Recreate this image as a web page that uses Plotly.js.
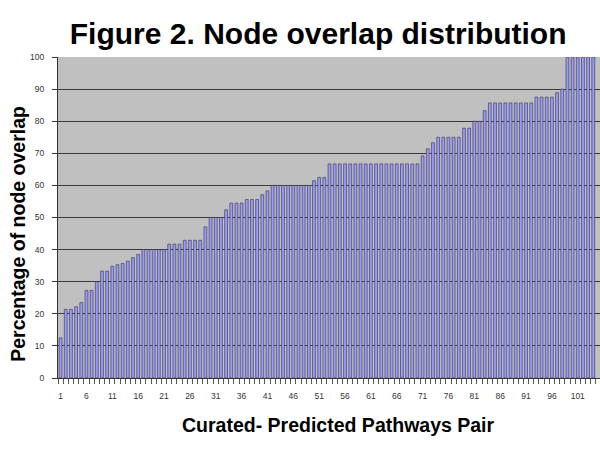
<!DOCTYPE html>
<html>
<head>
<meta charset="utf-8">
<script src="https://cdn.plot.ly/plotly-3.0.1.min.js"></script>
<style>html,body{margin:0;padding:0;background:#fff}#chart{width:600px;height:450px}</style>
</head>
<body>
<div id="chart"></div>
<script>
// Pair index (1..104) and percentage of node overlap
const pairs = [];
for (let i = 1; i <= 104; i++) pairs.push(i);

const overlap = [
  12.5, 21.4, 21.4, 22.2, 23.5, 27.3, 27.3, 30.0, 33.3, 33.3,
  34.8, 35.3, 35.7, 36.4, 37.5, 38.5, 40.0, 40.0, 40.0, 40.0,
  40.0, 41.7, 41.7, 41.7, 42.9, 42.9, 42.9, 42.9, 47.1, 50.0,
  50.0, 50.0, 52.4, 54.5, 54.5, 54.5, 55.6, 55.6, 55.6, 57.1,
  58.3, 60.0, 60.0, 60.0, 60.0, 60.0, 60.0, 60.0, 60.0, 61.5,
  62.5, 62.5, 66.7, 66.7, 66.7, 66.7, 66.7, 66.7, 66.7, 66.7,
  66.7, 66.7, 66.7, 66.7, 66.7, 66.7, 66.7, 66.7, 66.7, 66.7,
  69.2, 71.4, 73.3, 75.0, 75.0, 75.0, 75.0, 75.0, 77.8, 77.8,
  80.0, 80.0, 83.3, 85.7, 85.7, 85.7, 85.7, 85.7, 85.7, 85.7,
  85.7, 85.7, 87.5, 87.5, 87.5, 87.5, 88.9, 90.0, 100, 100,
  100, 100, 100, 100
];

const xTickVals = [1, 6, 11, 16, 21, 26, 31, 36, 41, 46, 51, 56, 61, 66, 71, 76, 81, 86, 91, 96, 101];
const yTickVals = [0, 10, 20, 30, 40, 50, 60, 70, 80, 90, 100];

const boundaryTicks = [];
for (let i = 0; i <= pairs.length; i++) boundaryTicks.push(i + 0.5);

const titleText = "Figure 2. Node overlap distribution";
const xTitle = "Curated- Predicted Pathways Pair";
const yTitle = "Percentage of node overlap";

const xRange = [0.5, 105.3];

const data = [{
  type: "bar",
  x: pairs,
  y: overlap,
  marker: { color: "#9999FF", line: { color: "#333344", width: 0.6 } },
  hoverinfo: "x+y"
}];

const layout = {
  width: 600, height: 450,
  margin: { l: 58, r: 0, t: 57, b: 72 },
  paper_bgcolor: "#ffffff",
  plot_bgcolor: "#C0C0C0",
  bargap: 0.45,
  showlegend: false,
  font: { family: "Liberation Sans, Arial, sans-serif", color: "#000" },
  title: {
    text: "<b>" + titleText + "</b>",
    font: { family: "Liberation Sans, Arial, sans-serif", size: 30, color: "#000" },
    x: 0.48, xanchor: "center", xref: "paper",
    y: 1 - 33 / 450, yanchor: "middle", yref: "container"
  },
  xaxis: {
    range: xRange,
    tickmode: "array", tickvals: xTickVals, ticktext: xTickVals.map(String),
    ticks: "", showgrid: false, zeroline: false,
    showline: true, linecolor: "#333", linewidth: 1,
    tickfont: { size: 8.5, color: "#333" },
    ticklabelstandoff: 10,
    automargin: false
  },
  xaxis2: {
    overlaying: "x", matches: "x", anchor: "y", side: "bottom",
    range: xRange,
    tickmode: "array", tickvals: boundaryTicks, ticktext: boundaryTicks.map(() => ""),
    ticks: "outside", ticklen: 5, tickcolor: "#555", tickwidth: 1,
    showgrid: false, zeroline: false, showline: false, showticklabels: false
  },
  yaxis: {
    range: [0, 100],
    tickmode: "array", tickvals: yTickVals,
    ticks: "outside", ticklen: 5, tickcolor: "#333",
    showgrid: true, gridcolor: "#3a3a3a", gridwidth: 1,
    zeroline: false, showline: true, linecolor: "#333", linewidth: 1,
    tickfont: { size: 8.5, color: "#333" },
    ticklabelstandoff: 6,
    automargin: false
  },
  annotations: [
    {
      text: "<b>" + xTitle + "</b>", showarrow: false,
      xref: "paper", yref: "paper", x: 0.517, y: -0.146,
      xanchor: "center", yanchor: "middle",
      font: { size: 19.5, color: "#000" }
    },
    {
      text: "<b>" + yTitle + "</b>", showarrow: false, textangle: -90,
      xref: "paper", yref: "paper", x: -0.074, y: 0.449,
      xanchor: "center", yanchor: "middle",
      font: { size: 19.5, color: "#000" }
    }
  ]
};

// invisible trace to activate the boundary-tick axis
data.push({ type: "scatter", x: [1], y: [0], xaxis: "x2", yaxis: "y", mode: "markers", marker: { opacity: 0 }, hoverinfo: "skip" });

Plotly.newPlot("chart", data, layout, { displayModeBar: false, staticPlot: true });
</script>
</body>
</html>
